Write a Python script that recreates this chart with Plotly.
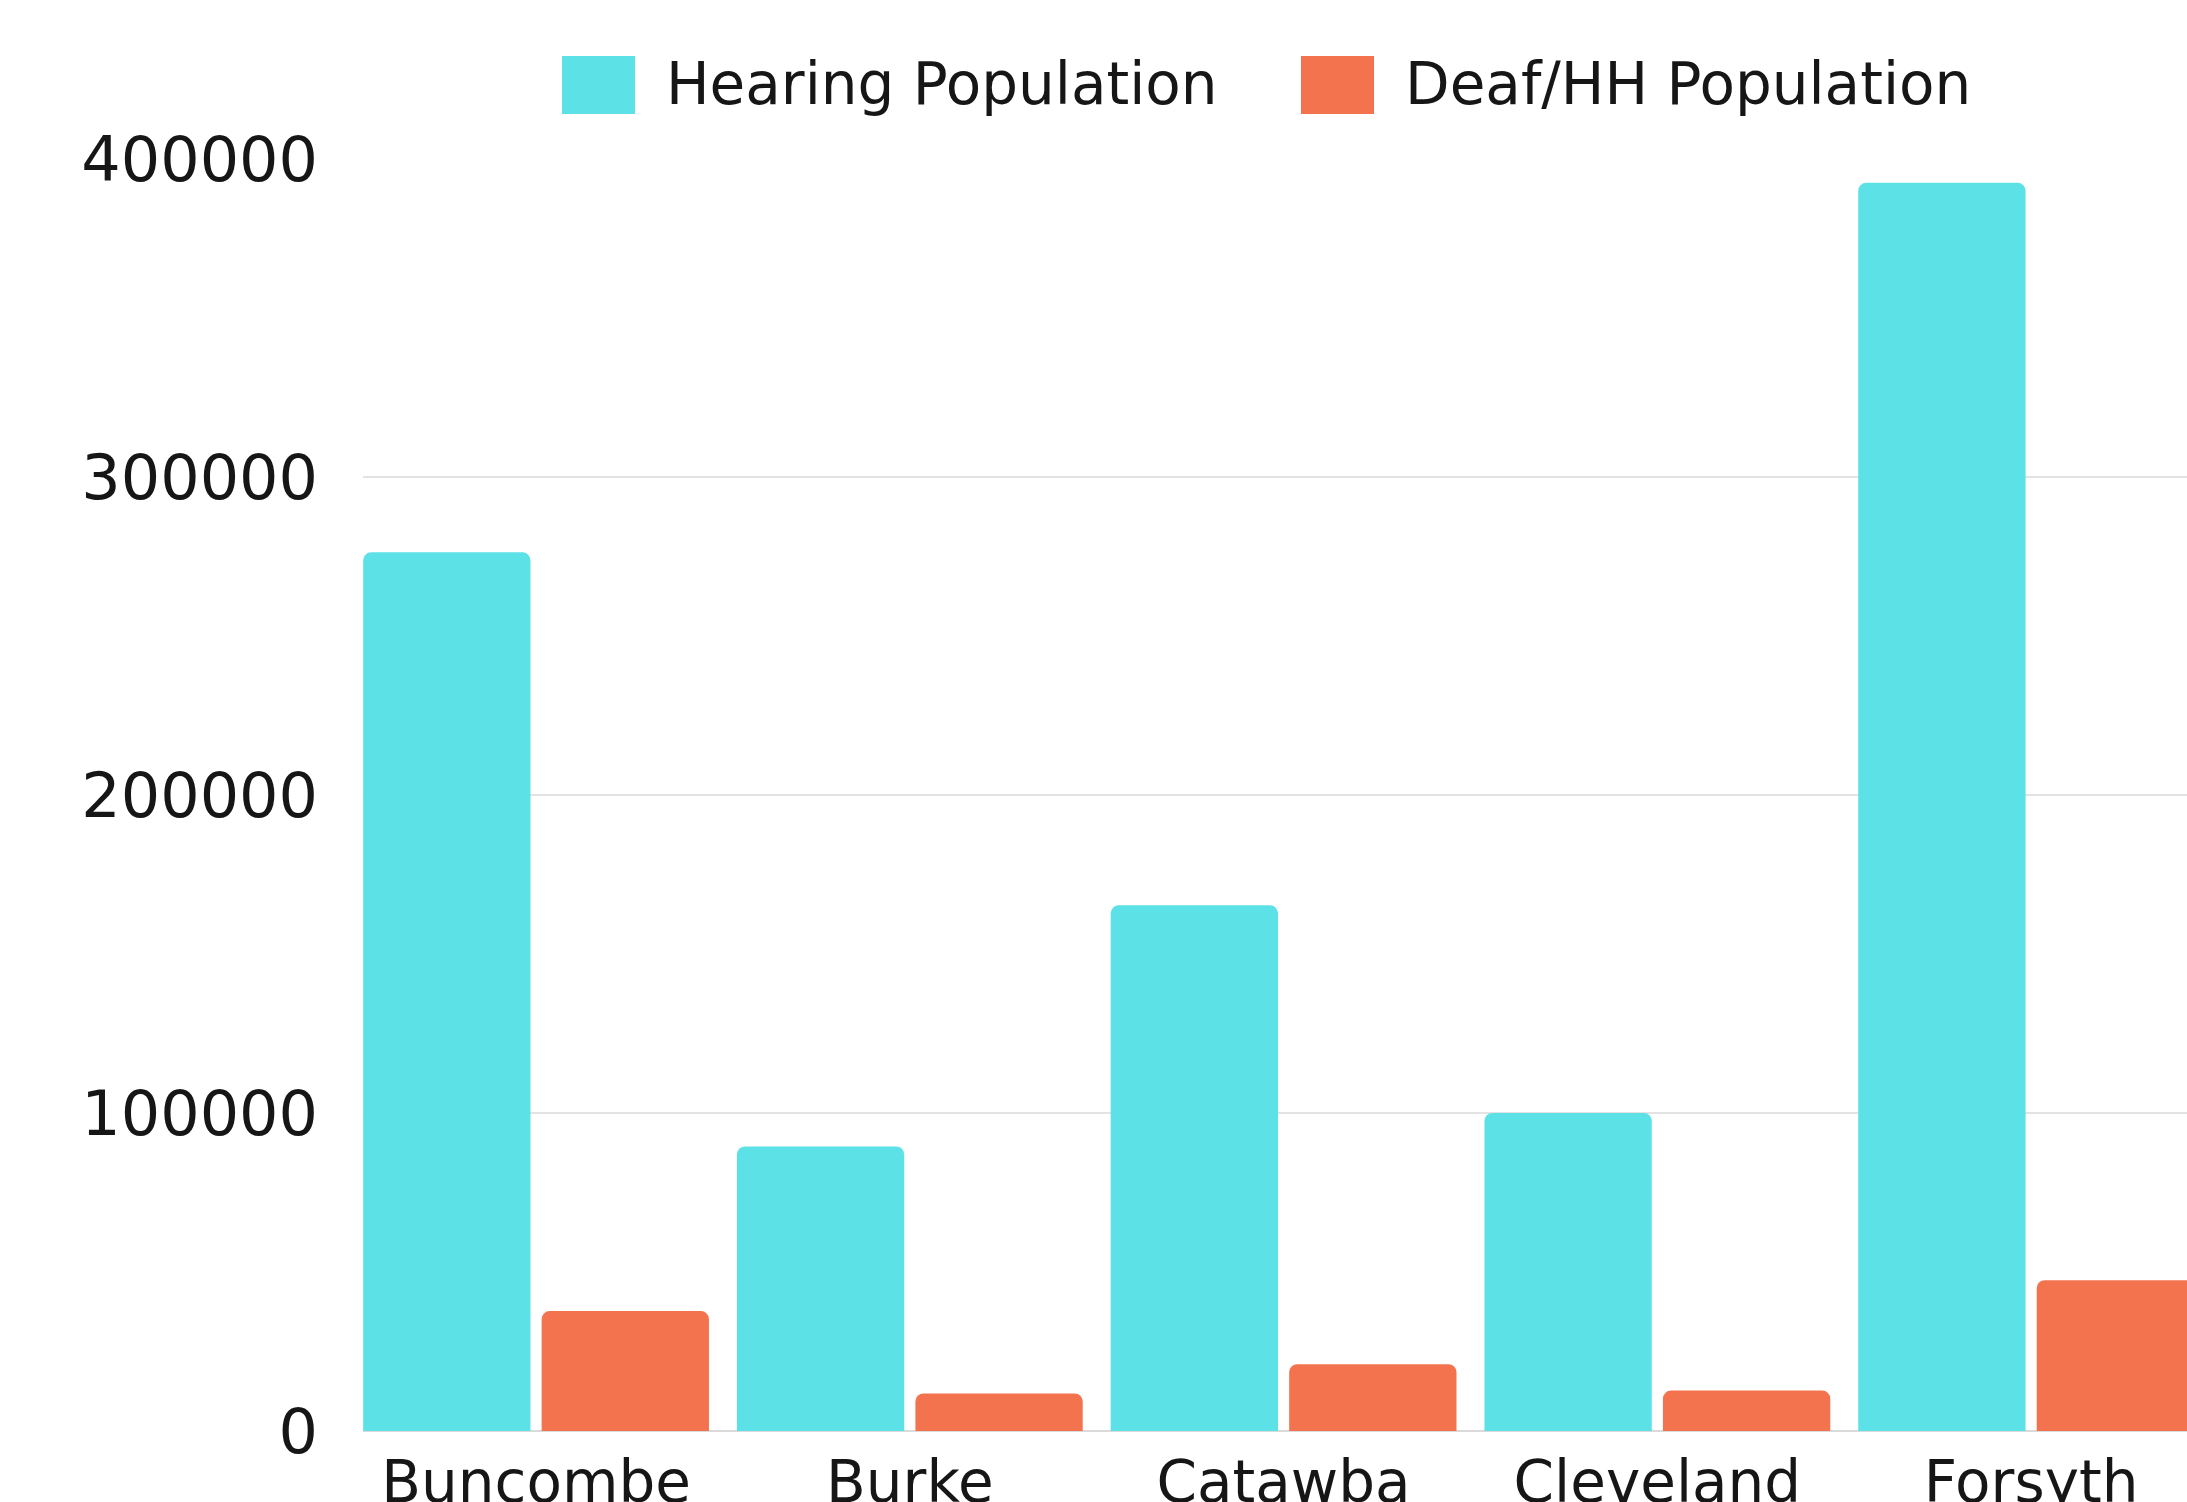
import plotly.graph_objects as go

counties = ["Buncombe", "Burke", "Catawba", "Cleveland", "Forsyth"]
hearing_pop = [276300, 89500, 165300, 100000, 392500]
deaf_hh_pop = [37700, 11800, 21000, 12700, 47400]
series_names = ["Hearing Population", "Deaf/HH Population"]
series_colors = ["#5CE1E6", "#F3734F"]
y_ticks = [0, 100000, 200000, 300000, 400000]

W, H = 2187, 1502
ML, MR, MT, MB = 363, 0, 159, 71
PW = W - ML - MR
PH = H - MT - MB

def px_x(px):
    return (px - ML) / PW

def px_y(py):
    return (H - MB - py) / PH

FONT = "DejaVu Sans"

fig = go.Figure()
for name, vals, col in zip(series_names, [hearing_pop, deaf_hh_pop], series_colors):
    fig.add_trace(go.Bar(x=counties, y=vals, name=name, marker=dict(color=col, line=dict(width=0), cornerradius=8)))

# custom legend (large swatches)
legend_items = [(562, 635, 664), (1301, 1374, 1403)]
for (sx0, sx1, tx), name, col in zip(legend_items, series_names, series_colors):
    fig.add_shape(type="rect", xref="paper", yref="paper",
                  x0=px_x(sx0), x1=px_x(sx1), y0=px_y(114), y1=px_y(56),
                  fillcolor=col, line=dict(width=0))
    fig.add_annotation(xref="paper", yref="paper", x=px_x(tx), y=px_y(84),
                       xanchor="left", yanchor="middle", text=name, showarrow=False,
                       font=dict(family=FONT, size=58, color="#161616"))

fig.update_layout(
    width=W, height=H,
    margin=dict(l=ML, r=MR, t=MT, b=MB, pad=0),
    paper_bgcolor="white", plot_bgcolor="white",
    barmode="group", bargap=0.045, bargroupgap=0.0625,
    showlegend=False,
    font=dict(family=FONT, color="#161616"),
)
fig.update_xaxes(range=[-0.463, 4.417], automargin=False, showgrid=False, showline=False,
                 zeroline=False, ticks="", tickfont=dict(family=FONT, size=58, color="#161616"),
                 ticklabelstandoff=12)
fig.update_yaxes(range=[0, 400000], automargin=False, tickvals=y_ticks,
                 ticktext=[str(v) for v in y_ticks],
                 showgrid=True, gridcolor="#E3E3E3", gridwidth=2,
                 zeroline=True, zerolinecolor="#DADADA", zerolinewidth=2,
                 showline=False, ticks="", ticklabelstandoff=44,
                 tickfont=dict(family=FONT, size=62, color="#161616"))

fig.write_html("out.html")
